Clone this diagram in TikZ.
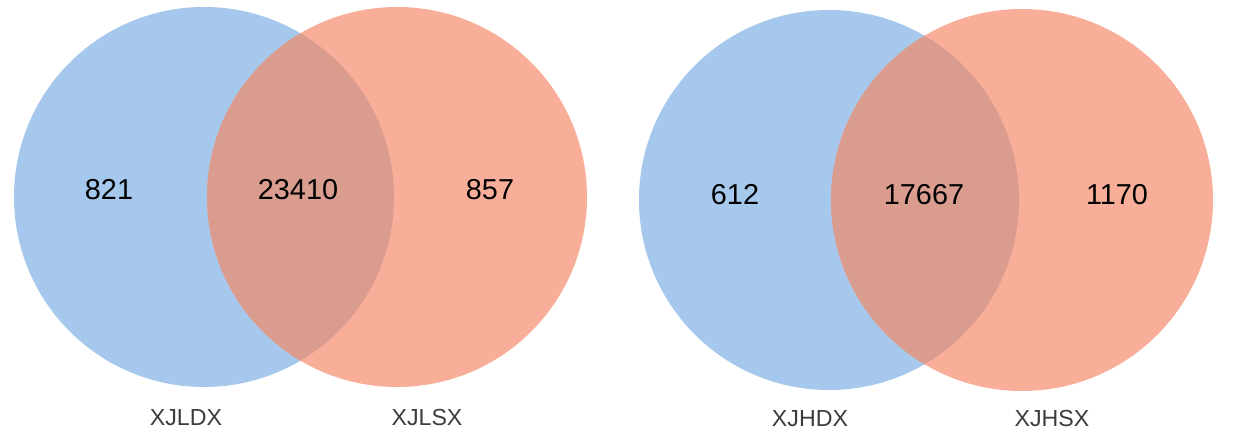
\documentclass[tikz,border=0pt]{standalone}
\usepackage{fontspec}
\setmainfont{Liberation Sans}
\usepackage{xcolor}
\usetikzlibrary{positioning}

\definecolor{vennblue}{HTML}{A6C8EC}
\definecolor{vennred}{HTML}{F8AE98}
\definecolor{vennmix}{HTML}{D99C8F}
\definecolor{labelgray}{HTML}{3C3C3C}

\begin{document}
\begin{tikzpicture}[
            x=0.025cm, y=-0.025cm,
            count/.style={font=\fontsize{20.5}{24}\selectfont, text=black},
            setlabel/.style={font=\fontsize{16.5}{20}\selectfont, text=labelgray}
        ]
        \useasboundingbox (0,0) rectangle (1248,446);

        % Left diagram
        \fill[vennblue] (204,197) circle (190);
        \fill[vennred] (397,197) circle (190);
        \begin{scope}
            \clip (204,197) circle (190);
            \fill[vennmix] (397,197) circle (190);
        \end{scope}
        \node[count] (ldx) at (109,190) {821};
        \node[count] (lmid) at (298,190) {23410};
        \node[count] (lsx) at (490,190) {857};
        \node[setlabel] (ldxname) at (186,418) {XJLDX};
        \node[setlabel] (lsxname) at (427,418) {XJLSX};

        % Right diagram
        \fill[vennblue] (829,200) circle (190);
        \fill[vennred] (1022,200) circle (191);
        \begin{scope}
            \clip (829,200) circle (190);
            \fill[vennmix] (1022,200) circle (191);
        \end{scope}
        \node[count] (hdx) at (735,195) {612};
        \node[count] (hmid) at (924,195) {17667};
        \node[count] (hsx) at (1117,195) {1170};
        \node[setlabel] (hdxname) at (810,419) {XJHDX};
        \node[setlabel] (hsxname) at (1052,419) {XJHSX};

    \end{tikzpicture}
\end{document}
